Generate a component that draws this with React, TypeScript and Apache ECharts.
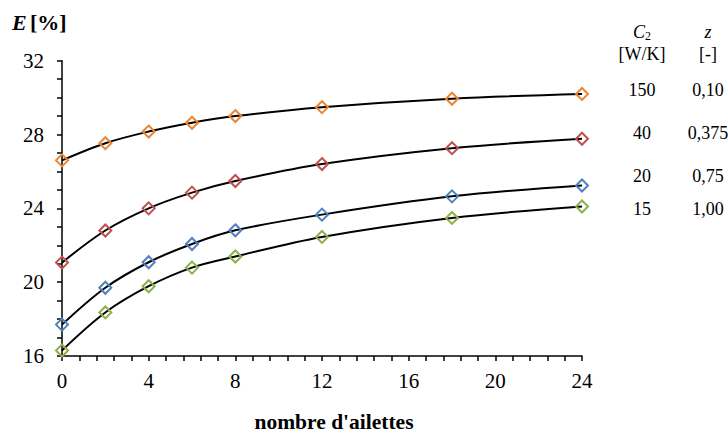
import React, { useEffect, useRef } from "react";
import * as echarts from "echarts";

const xValues = [0, 2, 4, 6, 8, 12, 18, 24];
const e150 = [26.6, 27.53, 28.16, 28.64, 29.0, 29.48, 29.94, 30.2];
const e40 = [21.06, 22.8, 24.0, 24.85, 25.48, 26.4, 27.26, 27.77];
const e20 = [17.7, 19.7, 21.08, 22.07, 22.81, 23.66, 24.65, 25.24];
const e15 = [16.3, 18.36, 19.78, 20.79, 21.39, 22.45, 23.48, 24.1];

const c2Values = ["150", "40", "20", "15"];
const zValues = ["0,10", "0,375", "0,75", "1,00"];
const seriesColors = ["#EB8532", "#C0504D", "#4F81BD", "#8DB04A"];
const allSeries = [e150, e40, e20, e15];

const FONT = "'Liberation Serif', 'Times New Roman', serif";

export default function App() {
  const ref = useRef<HTMLDivElement>(null);
  useEffect(() => {
    if (!ref.current) return;
    document.body.style.margin = "0";
    const chart = echarts.init(ref.current, null, { renderer: "svg" });
    const legendRowsY = [90, 133, 176, 209];
    const graphics: any[] = [
      {
        type: "text",
        x: 12,
        y: 22,
        style: {
          text: "{e|E} {b|[%]}",
          verticalAlign: "middle",
          rich: {
            e: { fontFamily: FONT, fontSize: 22, fontWeight: "bold", fontStyle: "italic", fill: "#000" },
            b: { fontFamily: FONT, fontSize: 22, fontWeight: "bold", fill: "#000" },
          },
        },
      },
      {
        type: "text",
        x: 334,
        y: 422,
        style: {
          text: "nombre d'ailettes",
          fontFamily: FONT,
          fontSize: 21.5,
          fontWeight: "bold",
          fill: "#000",
          align: "center",
          verticalAlign: "middle",
        },
      },
      {
        type: "text",
        x: 642,
        y: 32,
        style: {
          text: "{c|C}{s|2}",
          align: "center",
          verticalAlign: "middle",
          rich: {
            c: { fontFamily: FONT, fontSize: 18, fontStyle: "italic", fill: "#000" },
            s: { fontFamily: FONT, fontSize: 12, fill: "#000", padding: [8, 0, 0, 0] },
          },
        },
      },
      {
        type: "text",
        x: 642,
        y: 54,
        style: { text: "[W/K]", fontFamily: FONT, fontSize: 18, fill: "#000", align: "center", verticalAlign: "middle" },
      },
      {
        type: "text",
        x: 708,
        y: 32,
        style: { text: "z", fontFamily: FONT, fontSize: 18, fontStyle: "italic", fill: "#000", align: "center", verticalAlign: "middle" },
      },
      {
        type: "text",
        x: 708,
        y: 54,
        style: { text: "[-]", fontFamily: FONT, fontSize: 18, fill: "#000", align: "center", verticalAlign: "middle" },
      },
    ];
    c2Values.forEach((v, i) => {
      graphics.push({
        type: "text",
        x: 642,
        y: legendRowsY[i],
        style: { text: v, fontFamily: FONT, fontSize: 18, fill: "#000", align: "center", verticalAlign: "middle" },
      });
      graphics.push({
        type: "text",
        x: 708,
        y: legendRowsY[i],
        style: { text: zValues[i], fontFamily: FONT, fontSize: 18, fill: "#000", align: "center", verticalAlign: "middle" },
      });
    });

    chart.setOption({
      animation: false,
      backgroundColor: "#fff",
      grid: { left: 62, right: 146, top: 60.7, bottom: 78 },
      xAxis: {
        type: "value",
        min: 0,
        max: 24,
        interval: 4,
        axisLine: { lineStyle: { color: "#000", width: 1.5 } },
        axisTick: { show: true, length: 5, lineStyle: { color: "#000", width: 1.5 } },
        minorTick: { show: true, splitNumber: 5, length: 5, lineStyle: { color: "#000", width: 1.5 } },
        splitLine: { show: false },
        axisLabel: { color: "#000", fontFamily: FONT, fontSize: 21, margin: 14 },
      },
      yAxis: {
        type: "value",
        min: 16,
        max: 32,
        interval: 4,
        axisLine: { show: true, lineStyle: { color: "#000", width: 1.5 } },
        axisTick: { show: true, length: 5, lineStyle: { color: "#000", width: 1.5 } },
        minorTick: { show: true, splitNumber: 4, length: 5, lineStyle: { color: "#000", width: 1.5 } },
        splitLine: { show: false },
        axisLabel: { color: "#000", fontFamily: FONT, fontSize: 21, margin: 18 },
      },
      series: allSeries.map((vals, i) => ({
        type: "line",
        data: xValues.map((x, j) => [x, vals[j]]),
        smooth: 0.35,
        symbol: "diamond",
        symbolSize: 12,
        lineStyle: { color: "#000", width: 2 },
        itemStyle: { color: "rgba(255,255,255,0)", borderColor: seriesColors[i], borderWidth: 2 },
        z: 2,
      })),
      graphic: graphics,
    });
    return () => chart.dispose();
  }, []);
  return <div ref={ref} style={{ position: "absolute", left: 0, top: 0, width: 728, height: 434 }} />;
}
